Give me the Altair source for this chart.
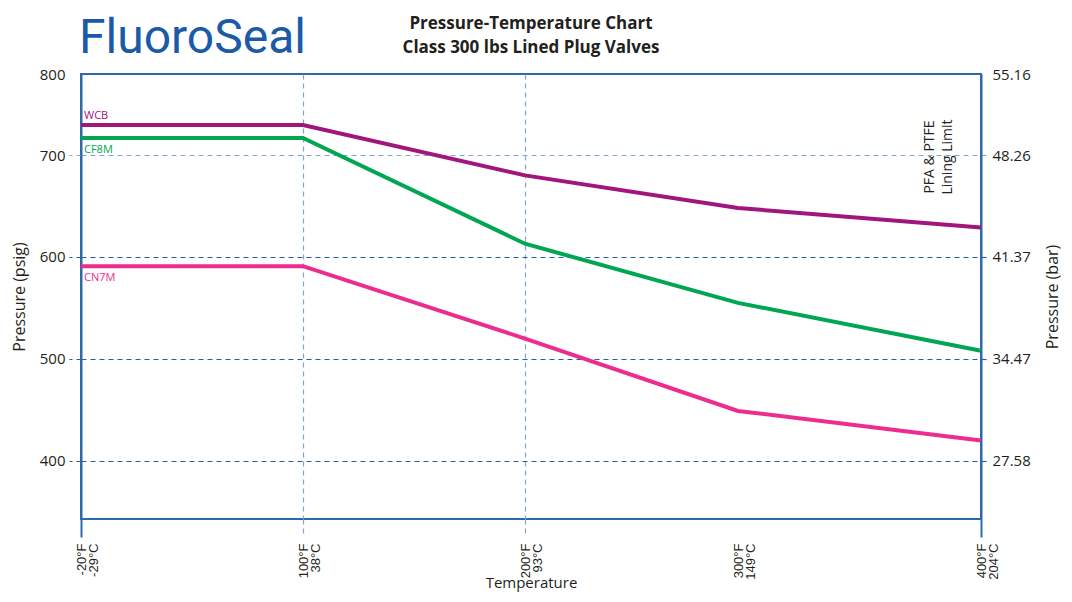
import json
import altair as alt
import pandas as pd

# ---------------- data ----------------
temps = [-20, 100, 200, 300, 400]
temp_f = ["-20°F", "100°F", "200°F", "300°F", "400°F"]
temp_c = ["-29°C", "38°C", "93°C", "149°C", "204°C"]
wcb = [737, 737, 680, 648, 629]
cf8m = [721, 721, 613, 555, 508]
cn7m = [591, 591, 520, 449, 420]
series = ["WCB", "CF8M", "CN7M"]
colors = ["#a0167c", "#00a651", "#ec2d8f"]
psig_ticks = [400, 500, 600, 700, 800]
PSI_TO_BAR = 0.0689476
title_lines = ["Pressure-Temperature Chart", "Class 300 lbs Lined Plug Valves"]
logo_text = "FluoroSeal"
limit_note = "PFA & PTFE\nLining Limit"

rows = []
for name, vals in zip(series, [wcb, cf8m, cn7m]):
    for i, (t, v) in enumerate(zip(temps, vals)):
        rows.append({"series": name, "temp": t, "psig": v, "order": i})
df = pd.DataFrame(rows)
first = df[df["order"] == 0]

FONT = "Open Sans"
TXT = "#231f20"
BLUE = "#2e6aa8"
DARK_GRID = "#2a5d9c"
LIGHT_GRID = "#7fa6d0"

# ---------------- scales ----------------
xscale = alt.Scale(domain=temps, range=[0, 222, 444, 657, 900], nice=False, zero=False)
yscale = alt.Scale(domain=[343, 700, 800], range=[445, 81, 0], nice=False, zero=False)
color_scale = alt.Scale(domain=series, range=colors)

label_arr = json.dumps([[f, c] for f, c in zip(temp_f, temp_c)], ensure_ascii=False)
x_label_expr = f"{label_arr}[indexof({json.dumps(temps)}, datum.value)]"

mid = "datum.value == 100 || datum.value == 200"
x_axis = alt.Axis(
    values=temps,
    labelExpr=x_label_expr,
    labelAngle=270,
    labelAlign="right",
    labelBaseline="middle",
    labelFont="Liberation Sans",
    labelFontSize=13,
    labelLineHeight=12,
    labelColor=TXT,
    labelPadding=6,
    tickSize=18,
    tickWidth={"condition": {"test": mid, "value": 1.2}, "value": 2},
    tickColor={"condition": {"test": mid, "value": LIGHT_GRID}, "value": BLUE},
    tickDash={"condition": {"test": mid, "value": [5, 4]}, "value": []},
    tickOpacity={"condition": {"test": "datum.value == 300", "value": 0}, "value": 1},
    grid=True,
    gridColor=LIGHT_GRID,
    gridDash=[5, 4],
    gridWidth=1.2,
    gridOpacity={"condition": {"test": mid, "value": 1}, "value": 0},
    domain=False,
    title="Temperature",
    titleFont=FONT,
    titleFontSize=15,
    titleFontWeight="normal",
    titleColor=TXT,
    titlePadding=-4,
)

top = "datum.value >= 800"
y_left = alt.Axis(
    orient="left",
    values=psig_ticks,
    labelFont=FONT,
    labelFontSize=15,
    labelColor=TXT,
    labelPadding=4,
    tickSize=12,
    tickWidth=1.2,
    tickDash=[5, 4],
    tickColor={"condition": {"test": "datum.value == 700", "value": LIGHT_GRID}, "value": DARK_GRID},
    tickOpacity={"condition": {"test": top, "value": 0}, "value": 1},
    grid=True,
    gridDash=[5, 4],
    gridWidth=1.2,
    gridColor={"condition": {"test": "datum.value == 700", "value": LIGHT_GRID}, "value": DARK_GRID},
    gridOpacity={"condition": {"test": top, "value": 0}, "value": 1},
    domainColor=BLUE,
    domainWidth=2,
    title="Pressure (psig)",
    titleFont=FONT,
    titleFontSize=16,
    titleFontWeight="normal",
    titleColor=TXT,
    titlePadding=12,
)

y_right = alt.Axis(
    orient="right",
    values=psig_ticks,
    labelExpr=f"format(datum.value * {PSI_TO_BAR}, '.2f')",
    labelFont=FONT,
    labelFontSize=15,
    labelColor=TXT,
    labelPadding=4,
    tickSize=7,
    tickWidth=1.2,
    tickDash=[5, 4],
    tickColor={"condition": {"test": "datum.value == 700", "value": LIGHT_GRID}, "value": DARK_GRID},
    tickOpacity={"condition": {"test": top, "value": 0}, "value": 1},
    grid=False,
    domainColor=BLUE,
    domainWidth=2,
    title="Pressure (bar)",
    titleAngle=270,
    titleBaseline="top",
    titleFont=FONT,
    titleFontSize=16,
    titleFontWeight="normal",
    titleColor=TXT,
    titlePadding=14,
)

X = alt.X("temp:Q", scale=xscale, axis=x_axis)
Y = alt.Y("psig:Q", scale=yscale, axis=y_left)
C = alt.Color("series:N", scale=color_scale, legend=None)

lines = alt.Chart(df).mark_line(strokeWidth=4).encode(
    x=X, y=Y, color=C, order="order:Q", detail="series:N"
)

lab_above = alt.Chart(first[first["series"] == "WCB"]).mark_text(
    align="left", baseline="middle", dx=3, dy=-9, font=FONT, fontSize=11
).encode(x=X, y=Y, color=C, text="series:N")

lab_below = alt.Chart(first[first["series"] != "WCB"]).mark_text(
    align="left", baseline="middle", dx=3, dy=12, font=FONT, fontSize=11
).encode(x=X, y=Y, color=C, text="series:N")

# rotated text: dx/dy act in the rotated frame (dy<0 -> left on screen)
pfa_df = pd.DataFrame({"temp": [temps[-1]], "psig": [700], "label": [limit_note]})
pfa = alt.Chart(pfa_df).mark_text(
    angle=270, align="center", baseline="middle", lineBreak="\n", lineHeight=18,
    dx=-2, dy=-51, font=FONT, fontSize=14, color=TXT
).encode(x=X, y=Y, text="label:N")

logo = alt.Chart(pd.DataFrame({"label": [logo_text]})).mark_text(
    align="left", baseline="alphabetic", font="Roboto", fontSize=48, color="#1a5aa6"
).encode(x=alt.value(-2), y=alt.value(-21), text="label:N")

title = alt.Chart(pd.DataFrame({"label": ["\n".join(title_lines)]})).mark_text(
    align="center", baseline="alphabetic", lineBreak="\n", lineHeight=24,
    font=FONT, fontSize=17, fontWeight="bold", color=TXT
).encode(x=alt.value(450), y=alt.value(-45), text="label:N")

left_part = alt.layer(lines, lab_above, lab_below, pfa, logo, title)

right_part = alt.Chart(df).mark_point(opacity=0).encode(
    x=X, y=alt.Y("psig:Q", scale=yscale, axis=y_right)
)

chart = alt.layer(left_part, right_part).resolve_scale(y="independent").properties(
    width=900,
    height=445,
    padding={"left": 73, "top": 66, "right": 83, "bottom": 75},
    autosize=alt.AutoSizeParams(type="none"),
).configure_view(stroke=BLUE, strokeWidth=2)

chart.save("out.html", embed_options={"renderer": "svg", "actions": False})
